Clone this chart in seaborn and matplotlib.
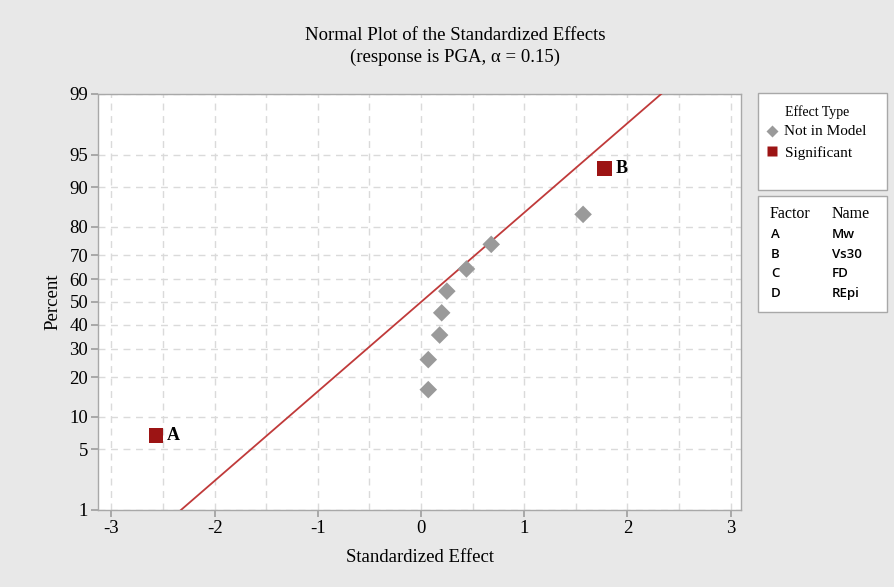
import numpy as np
import pandas as pd
import matplotlib
matplotlib.use("Agg")
import matplotlib.pyplot as plt
import seaborn as sns
from statistics import NormalDist
from matplotlib.patches import Rectangle

# ---- data ----
effects = [-2.57, 0.07, 0.07, 0.18, 0.20, 0.25, 0.44, 0.68, 1.57, 1.78]
percents = [6.73, 16.35, 25.96, 35.58, 45.19, 54.81, 64.42, 74.04, 83.65, 93.27]
effect_type = ["Significant", "Not in Model", "Not in Model", "Not in Model", "Not in Model",
               "Not in Model", "Not in Model", "Not in Model", "Not in Model", "Significant"]
point_labels = ["A", "", "", "", "", "", "", "", "", "B"]
y_ticks = [1, 5, 10, 20, 30, 40, 50, 60, 70, 80, 90, 95, 99]
x_ticks = [-3, -2, -1, 0, 1, 2, 3]
factors = ["A", "B", "C", "D"]
names = ["Mw", "Vs30", "FD", "REpi"]

_nd = NormalDist()
def fwd(p):
    p = np.asarray(p, dtype=float)
    out = np.empty(p.shape)
    flat = p.ravel()
    res = out.ravel()
    for i, v in enumerate(flat):
        if not np.isfinite(v):
            res[i] = np.nan
            continue
        v = min(max(v, 1e-6), 100 - 1e-6)
        res[i] = _nd.inv_cdf(v / 100.0)
    return res.reshape(p.shape)
def inv(z):
    z = np.asarray(z, dtype=float)
    return np.vectorize(lambda v: _nd.cdf(v) * 100.0)(z)

df = pd.DataFrame({"effect": effects, "percent": percents, "type": effect_type, "lab": point_labels})

sns.set_theme(style="white")
serif = ["Liberation Serif", "DejaVu Serif"]
plt.rcParams["font.family"] = serif
plt.rcParams["text.color"] = "black"
plt.rcParams["axes.labelcolor"] = "black"
plt.rcParams["xtick.color"] = "black"
plt.rcParams["ytick.color"] = "black"

bg = "#e8e8e8"
fig = plt.figure(figsize=(8.94, 5.87), dpi=100, facecolor=bg)
ax = fig.add_axes([98/894, 1-510/587, (741-98)/894, (510-94)/587])
ax.set_facecolor("white")
ax.set_yscale("function", functions=(fwd, inv))
ax.set_ylim(1, 99)
ax.set_xlim(-3.13, 3.1)

# reference line (effect = z)
zline = np.linspace(-2.6, 2.6, 50)
ax.plot(zline, inv(zline), color="#c03a3a", lw=1.3, zorder=3)

nm = df[df["type"] == "Not in Model"]
sg = df[df["type"] == "Significant"]
sns.scatterplot(data=nm, x="effect", y="percent", marker="D", s=80, color="#9a9a9a",
                edgecolor="none", ax=ax, zorder=4, legend=False)
sns.scatterplot(data=sg, x="effect", y="percent", marker="s", s=110, color="#9c1414",
                edgecolor="none", ax=ax, zorder=4, legend=False)
for _, r in sg.iterrows():
    ax.annotate(r["lab"], (r["effect"], r["percent"]), xytext=(8, 0), textcoords="offset points",
                va="center", ha="left", fontsize=13, fontweight="bold", color="black")

ax.set_yticks(y_ticks)
ax.set_yticklabels([str(v) for v in y_ticks])
ax.yaxis.set_minor_locator(matplotlib.ticker.NullLocator())
ax.set_xticks(x_ticks)
ax.set_xticklabels([str(v) for v in x_ticks])
ax.set_xticks(np.arange(-2.5, 3.0, 1.0), minor=True)
ax.grid(True, which="both", axis="x", color="#dadada", ls=(0, (5, 4)), lw=1.0)
ax.grid(True, which="major", axis="y", color="#dadada", ls=(0, (5, 4)), lw=1.0)
ax.tick_params(axis="both", which="major", direction="out", length=5, color="#a0a0a0",
               labelsize=13.5, pad=2, bottom=True, left=True, labelcolor="black")
ax.tick_params(axis="x", which="minor", length=0)
for sp in ax.spines.values():
    sp.set_color("#a8a8a8")
    sp.set_linewidth(1.0)
ax.set_xlabel("Standardized Effect", fontsize=13.5, labelpad=9)
ax.set_ylabel("Percent", fontsize=13.5, labelpad=6)

fig.text(455/894, 1-35/587, "Normal Plot of the Standardized Effects", ha="center", va="center", fontsize=13.5)
fig.text(455/894, 1-57/587, "(response is PGA, \u03b1 = 0.15)", ha="center", va="center", fontsize=13.5)

# legend boxes
def fx(px): return px / 894
def fy(py): return 1 - py / 587
fig.patches.append(Rectangle((fx(758), fy(190)), fx(887) - fx(758), fy(93) - fy(190),
                             transform=fig.transFigure, facecolor="white", edgecolor="#a8a8a8", lw=1.0))
fig.patches.append(Rectangle((fx(758), fy(312)), fx(887) - fx(758), fy(196) - fy(312),
                             transform=fig.transFigure, facecolor="white", edgecolor="#a8a8a8", lw=1.0))
fig.text(fx(817), fy(112), "Effect Type", ha="center", va="center", fontsize=10)
fig.lines.append(matplotlib.lines.Line2D([fx(772)], [fy(131)], transform=fig.transFigure,
                                         marker="D", markersize=6.5, color="#9a9a9a", mec="none", ls="none"))
fig.text(fx(784), fy(131), "Not in Model", ha="left", va="center", fontsize=11)
fig.lines.append(matplotlib.lines.Line2D([fx(772)], [fy(151)], transform=fig.transFigure,
                                         marker="s", markersize=7, color="#9c1414", mec="none", ls="none"))
fig.text(fx(785), fy(153), "Significant", ha="left", va="center", fontsize=11)

fig.text(fx(770), fy(214), "Factor", ha="left", va="center", fontsize=11.5)
fig.text(fx(832), fy(214), "Name", ha="left", va="center", fontsize=11.5)
for i, (f, n) in enumerate(zip(factors, names)):
    yy = fy(235 + i * 19.5)
    fig.text(fx(771), yy, f, ha="left", va="center", fontsize=9.5, fontweight="semibold",
             family=["Open Sans", "DejaVu Sans"])
    fig.text(fx(832), yy, n, ha="left", va="center", fontsize=9.5, fontweight="semibold",
             family=["Open Sans", "DejaVu Sans"])

fig.savefig("out.png", dpi=100, facecolor=bg)
